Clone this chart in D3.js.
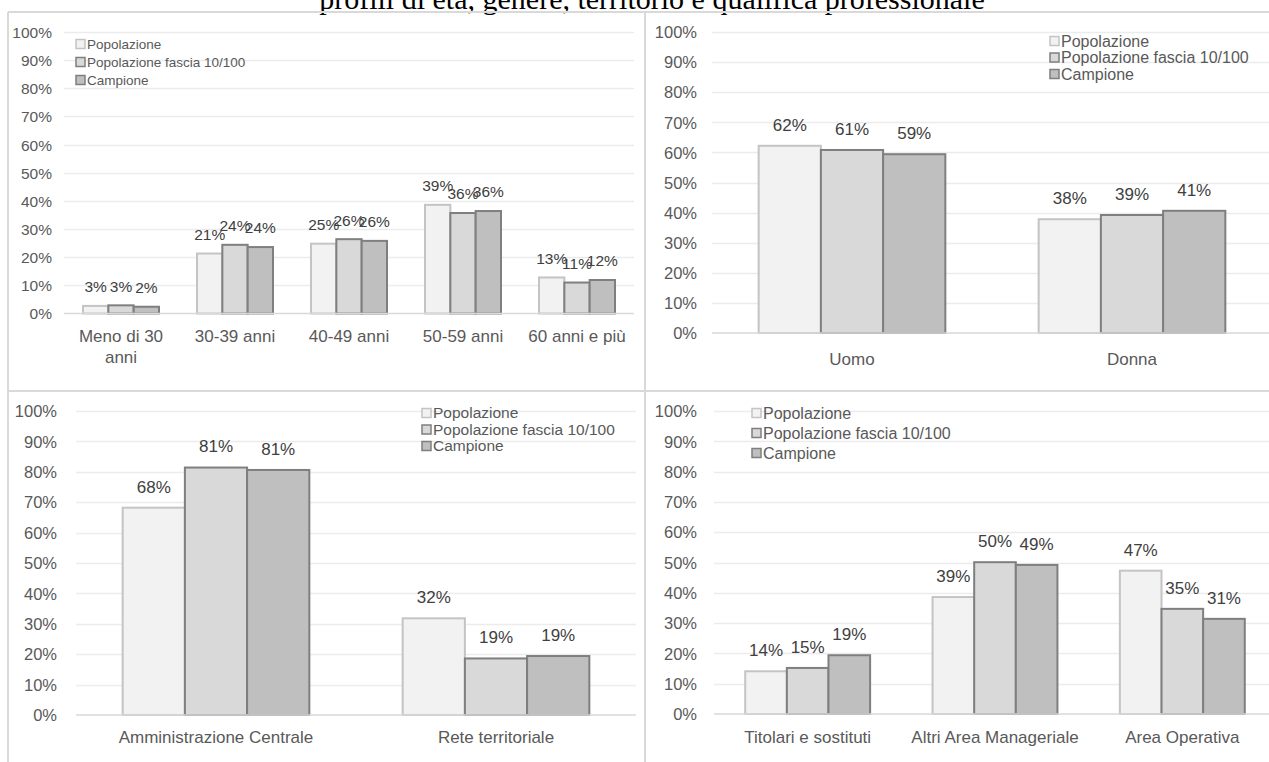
<!DOCTYPE html>
<html>
<head>
<meta charset="utf-8">
<script src="https://cdn.jsdelivr.net/npm/d3@7"></script>
<style>
  html, body { margin: 0; padding: 0; background: #fff; }
  svg { display: block; }
</style>
</head>
<body>
<svg id="chart" width="1269" height="762"></svg>
<script>
// Series shared by all four charts
const seriesNames = ["Popolazione", "Popolazione fascia 10/100", "Campione"];
const yTicks = [0, 10, 20, 30, 40, 50, 60, 70, 80, 90, 100];

// Età
const ageCategories = ["Meno di 30 anni", "30-39 anni", "40-49 anni", "50-59 anni", "60 anni e più"];
const agePopolazione = [2.7, 21.3, 24.8, 38.6, 12.8];
const ageFascia = [2.9, 24.4, 26.4, 35.7, 11.0];
const ageCampione = [2.4, 23.6, 25.8, 36.4, 11.9];

// Genere
const genderCategories = ["Uomo", "Donna"];
const genderPopolazione = [62.2, 37.8];
const genderFascia = [60.8, 39.2];
const genderCampione = [59.4, 40.6];

// Territorio
const areaCategories = ["Amministrazione Centrale", "Rete territoriale"];
const areaPopolazione = [68.2, 31.8];
const areaFascia = [81.4, 18.6];
const areaCampione = [80.6, 19.4];

// Qualifica professionale
const roleCategories = ["Titolari e sostituti", "Altri Area Manageriale", "Area Operativa"];
const rolePopolazione = [14.1, 38.6, 47.3];
const roleFascia = [15.2, 50.1, 34.7];
const roleCampione = [19.4, 49.2, 31.4];

const titleText = "profili di età, genere, territorio e qualifica professionale";

const fills = ["#f2f2f2", "#d9d9d9", "#bfbfbf"];
const strokes = ["#c4c4c4", "#7f7f7f", "#7f7f7f"];
const font = "'Liberation Sans', Arial, sans-serif";
const fmt = d3.format(".0%");

const svg = d3.select("#chart");

// Title (partly above the top edge)
svg.append("text")
  .attr("x", 652).attr("y", 9)
  .attr("text-anchor", "middle")
  .attr("font-family", "'Liberation Serif', 'Times New Roman', serif")
  .attr("font-size", 30)
  .attr("fill", "#000")
  .text(titleText);

function wrapLines(text, maxWidth, fontSize) {
  const ctx = document.createElement("canvas").getContext("2d");
  ctx.font = fontSize + "px " + font;
  const words = text.split(" ");
  const lines = [];
  let cur = "";
  words.forEach(w => {
    const test = cur ? cur + " " + w : w;
    if (ctx.measureText(test).width > maxWidth && cur) { lines.push(cur); cur = w; }
    else cur = test;
  });
  if (cur) lines.push(cur);
  return lines;
}

function drawPanel(p) {
  const g = svg.append("g");
  const x = d3.scaleBand().domain(p.categories).range([p.x0, p.x1]).paddingInner(0).paddingOuter(0);
  // group takes 2/3 of the band (gap width 150%)
  const groupW = x.bandwidth() * 2 / 3;
  const barW = groupW / 3;
  const y = d3.scaleLinear().domain([0, 100]).range([p.yBase, p.yTop]);

  // gridlines
  g.append("g").selectAll("line").data(yTicks.filter(t => t > 0)).join("line")
    .attr("x1", p.x0).attr("x2", p.x1)
    .attr("y1", d => Math.round(y(d)) + 0.5).attr("y2", d => Math.round(y(d)) + 0.5)
    .attr("stroke", "#ececec").attr("stroke-width", 1.3);

  // y axis labels
  const yAxis = d3.axisLeft(y).tickValues(yTicks).tickFormat(d => d + "%").tickSize(0).tickPadding(0);
  const ya = g.append("g").attr("transform", `translate(${p.tickX},0)`).call(yAxis);
  ya.select(".domain").remove();
  ya.selectAll("text").attr("font-family", font).attr("font-size", p.tickSize)
    .attr("fill", "#595959").attr("dy", "0.35em");

  // bars
  const series = p.values;
  series.forEach((vals, si) => {
    g.append("g").selectAll("rect").data(vals).join("rect")
      .attr("x", (d, i) => x(p.categories[i]) + (x.bandwidth() - groupW) / 2 + si * barW)
      .attr("y", d => y(d))
      .attr("width", barW)
      .attr("height", d => y(0) - y(d))
      .attr("fill", fills[si])
      .attr("stroke", strokes[si])
      .attr("stroke-width", 2);
  });

  // baseline
  g.append("line").attr("x1", p.x0).attr("x2", p.x1)
    .attr("y1", y(0)).attr("y2", y(0)).attr("stroke", "#d9d9d9").attr("stroke-width", 1.5);

  // data labels
  series.forEach((vals, si) => {
    g.append("g").selectAll("text").data(vals).join("text")
      .attr("x", (d, i) => x(p.categories[i]) + (x.bandwidth() - groupW) / 2 + si * barW + barW / 2)
      .attr("y", d => y(d) - p.labelOffset)
      .attr("dy", "0.35em")
      .attr("text-anchor", "middle")
      .attr("font-family", font).attr("font-size", p.labelSize)
      .attr("fill", "#404040")
      .text(d => fmt(d / 100));
  });

  // category labels
  p.categories.forEach(c => {
    const lines = wrapLines(c, p.wrapWidth, p.catSize);
    const t = g.append("text")
      .attr("text-anchor", "middle")
      .attr("font-family", font).attr("font-size", p.catSize)
      .attr("fill", "#595959");
    lines.forEach((ln, li) => {
      t.append("tspan").attr("x", x(c) + x.bandwidth() / 2)
        .attr("y", p.catY + li * p.catLine).attr("dy", "0.35em").text(ln);
    });
  });

  // legend
  const lg = g.append("g");
  seriesNames.forEach((n, si) => {
    const cy = p.legY[si];
    lg.append("rect").attr("x", p.legX).attr("y", cy - 4.5).attr("width", 9).attr("height", 9)
      .attr("fill", fills[si]).attr("stroke", strokes[si]).attr("stroke-width", 1.5);
    lg.append("text").attr("x", p.legX + 11).attr("y", cy).attr("dy", "0.35em")
      .attr("font-family", font).attr("font-size", p.legSize).attr("fill", "#595959").text(n);
  });
}

drawPanel({
  categories: ageCategories, values: [agePopolazione, ageFascia, ageCampione],
  x0: 64, x1: 634, yBase: 313.5, yTop: 32, tickX: 52, tickSize: 15.5,
  labelSize: 15.5, labelOffset: 19, catSize: 17, catY: 336, catLine: 21, wrapWidth: 105,
  legX: 76, legY: [44, 62, 80], legSize: 13.5
});

drawPanel({
  categories: genderCategories, values: [genderPopolazione, genderFascia, genderCampione],
  x0: 712, x1: 1272, yBase: 333, yTop: 32, tickX: 697, tickSize: 16.5,
  labelSize: 17, labelOffset: 21, catSize: 17, catY: 359, catLine: 21, wrapWidth: 250,
  legX: 1050, legY: [41, 57.5, 74], legSize: 16
});

drawPanel({
  categories: areaCategories, values: [areaPopolazione, areaFascia, areaCampione],
  x0: 76, x1: 636, yBase: 715, yTop: 411, tickX: 57, tickSize: 16.5,
  labelSize: 17, labelOffset: 21, catSize: 17, catY: 737, catLine: 21, wrapWidth: 250,
  legX: 422, legY: [413, 429.5, 446], legSize: 15.5
});

drawPanel({
  categories: roleCategories, values: [rolePopolazione, roleFascia, roleCampione],
  x0: 714, x1: 1276, yBase: 714, yTop: 411, tickX: 697, tickSize: 16.5,
  labelSize: 17, labelOffset: 21, catSize: 17, catY: 737, catLine: 21, wrapWidth: 185,
  legX: 752, legY: [413, 433, 453], legSize: 16
});

// Frame lines around the four charts
const frame = svg.append("g").attr("stroke", "#d9d9d9").attr("stroke-width", 2);
frame.append("line").attr("x1", 8).attr("x2", 1269).attr("y1", 12).attr("y2", 12);
frame.append("line").attr("x1", 8).attr("x2", 1269).attr("y1", 391).attr("y2", 391);
frame.append("line").attr("x1", 8).attr("x2", 8).attr("y1", 12).attr("y2", 762);
frame.append("line").attr("x1", 645).attr("x2", 645).attr("y1", 12).attr("y2", 762);
</script>
</body>
</html>
